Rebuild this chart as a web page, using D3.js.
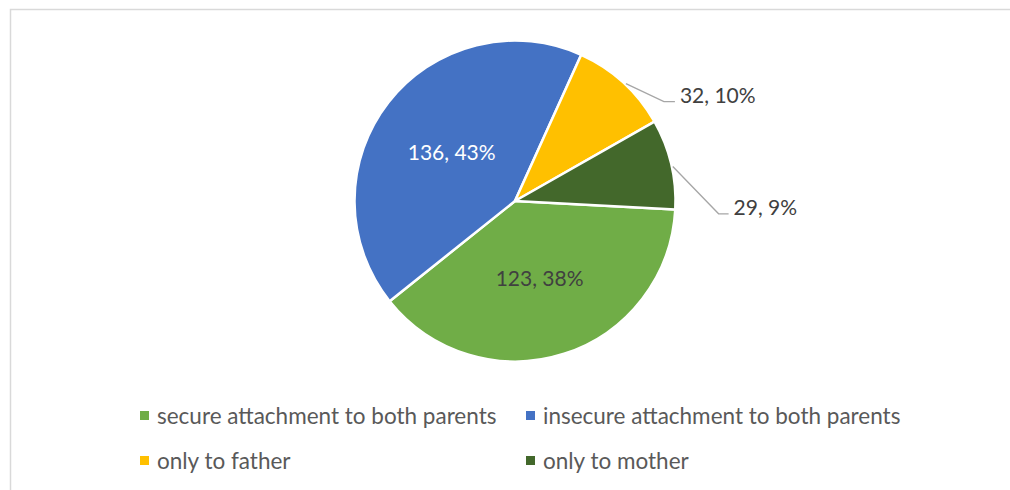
<!DOCTYPE html>
<html>
<head>
<meta charset="utf-8">
<script src="https://cdn.jsdelivr.net/npm/d3@7"></script>
<style>
  html, body { margin: 0; padding: 0; background: #fff; }
  svg { display: block; font-family: Lato, "Open Sans", sans-serif; }
</style>
</head>
<body>
<div id="chart"></div>
<script>
// pie data
const categories = ["secure attachment to both parents", "insecure attachment to both parents", "only to father", "only to mother"];
const counts = [123, 136, 32, 29];
const percentLabels = ["38%", "43%", "10%", "9%"];
const colors = ["#70AD47", "#4472C4", "#FFC000", "#43682B"];

// where each label goes: inside slice, or outside with a leader line
// (angle in degrees, clockwise from 12 o'clock)
const labelLayout = [
    { inside: true, color: "#404040" },
    { inside: true, color: "#ffffff" },
    { inside: false, startShift: 1, elbowAngle: 56.3, elbowR: 179, tail: 11 },
    { inside: false, startShift: 1, elbowAngle: 93.6, elbowR: 204, tail: 10 }
];

class PieChartD3 {
    constructor(width, height) {
        this.width = width;
        this.height = height;
        this.cx = 515;
        this.cy = 201;
        this.radius = 160.5;
        this.firstAngle = 93; // degrees
    }

    plot(element_id) {
        this.svg = d3.select(element_id).append("svg")
            .attr("width", this.width).attr("height", this.height);
        this._addFrame();
        this._addSlices();
        this._addLabels();
        this._addLegend();
    }

    _addFrame() {
        this.svg.append("rect")
            .attr("x", 10.5).attr("y", 9.5)
            .attr("width", this.width + 20).attr("height", this.height + 20)
            .attr("fill", "none")
            .attr("stroke", "#d9d9d9")
            .attr("stroke-width", 1.5);
    }

    _addSlices() {
        const data = categories.map((c, i) => ({ name: c, value: counts[i], i: i }));
        const a0 = this.firstAngle * Math.PI / 180;
        this.arcs = d3.pie()
            .sort(null)
            .value(d => d.value)
            .startAngle(a0)
            .endAngle(a0 + 2 * Math.PI)(data);
        this.arc = d3.arc().innerRadius(0).outerRadius(this.radius);

        this.g = this.svg.append("g")
            .attr("transform", "translate(" + this.cx + "," + this.cy + ")");
        this.g.selectAll("path.slice")
            .data(this.arcs)
            .enter()
            .append("path")
            .attr("class", "slice")
            .attr("d", this.arc)
            .attr("fill", d => colors[d.data.i])
            .attr("stroke", "#ffffff")
            .attr("stroke-width", 2.5)
            .attr("stroke-linejoin", "round");
    }

    _polar(deg, r) {
        const a = deg * Math.PI / 180;
        return [r * Math.sin(a), -r * Math.cos(a)];
    }

    _addLabels() {
        const self = this;
        this.arcs.forEach(function (d) {
            const i = d.data.i;
            const lay = labelLayout[i];
            const text = counts[i] + ", " + percentLabels[i];
            if (lay.inside) {
                const c = self.arc.centroid(d);
                self.g.append("text")
                    .attr("x", c[0]).attr("y", c[1])
                    .attr("text-anchor", "middle")
                    .attr("dominant-baseline", "central")
                    .attr("font-size", 21)
                    .attr("fill", lay.color)
                    .text(text);
            } else {
                const mid = (d.startAngle + d.endAngle) / 2 * 180 / Math.PI;
                const p0 = self._polar(mid + lay.startShift, self.radius + 1);
                const p1 = self._polar(lay.elbowAngle, lay.elbowR);
                const p2 = [p1[0] + lay.tail, p1[1]];
                self.g.append("polyline")
                    .attr("points", [p0, p1, p2].map(p => p.join(",")).join(" "))
                    .attr("fill", "none")
                    .attr("stroke", "#a6a6a6")
                    .attr("stroke-width", 1.3);
                self.g.append("text")
                    .attr("x", p2[0] + 5).attr("y", p2[1] + 1)
                    .attr("font-size", 21)
                    .attr("fill", "#404040")
                    .text(text);
            }
        });
    }

    _addLegend() {
        const cols = [140, 526];
        const rows = [415.5, 460.5];
        const legend = this.svg.append("g");
        categories.forEach(function (c, i) {
            const x = cols[i % 2];
            const y = rows[Math.floor(i / 2)];
            legend.append("rect")
                .attr("x", x).attr("y", y - 4.5)
                .attr("width", 9).attr("height", 9)
                .attr("fill", colors[i]);
            legend.append("text")
                .attr("x", x + 17).attr("y", y)
                .attr("dominant-baseline", "central")
                .attr("font-size", 22.5)
                .attr("fill", "#595959")
                .text(c);
        });
    }
}

const chart = new PieChartD3(1010, 490);
chart.plot("#chart");
</script>
</body>
</html>
